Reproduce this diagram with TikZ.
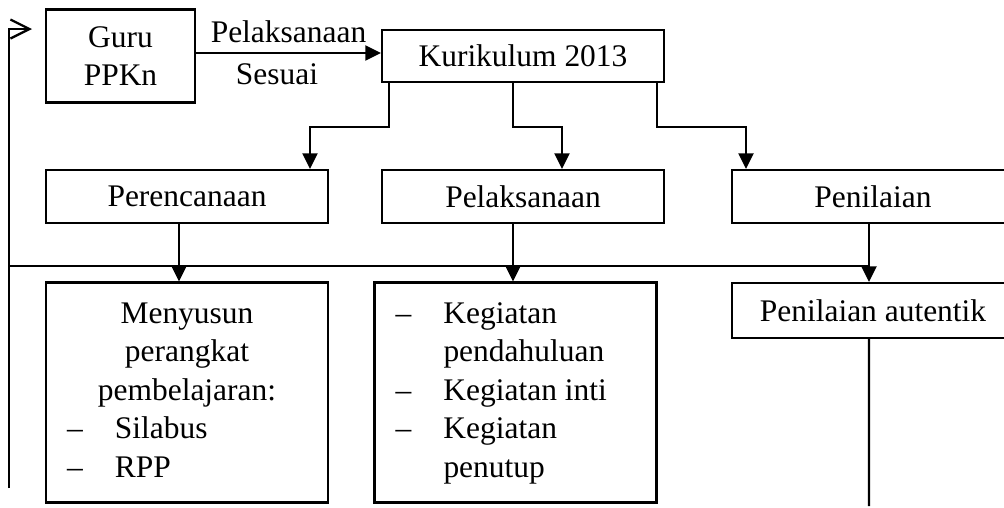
\documentclass[tikz,border=0pt]{standalone}
\usepackage{fontspec}
\setmainfont{Liberation Serif}
\usetikzlibrary{arrows.meta}

\begin{document}
\begin{tikzpicture}[->, >={Triangle[length=0.31cm, width=0.3cm]}, line width=1.3pt, auto,
  font=\fontsize{17.9}{21.9}\selectfont,
  kotak/.style={draw, rectangle, minimum width=5.64cm, minimum height=1.06cm},
  daftar/.style={draw, rectangle, minimum width=5.64cm, minimum height=4.4cm, inner sep=0pt}]
\useasboundingbox (0,0) rectangle (20.08,-10.16);
\node  (2)[kotak, minimum height=1.04cm] at (10.46,-1.12) {Kurikulum 2013};
\node  (1)[draw, rectangle, minimum width=2.98cm, minimum height=1.86cm, align=center, node distance=8.05cm] [left of = 2] {Guru\\PPKn};
\node  (4)[kotak, node distance=2.81cm] [below of = 2] {Pelaksanaan};
\node  (3)[kotak, node distance=6.72cm] [left  of = 4] {Perencanaan};
\node  (5)[kotak, node distance=7cm]    [right of = 4] {Penilaian};
\node  (6)[daftar, node distance=3.92cm] [below of = 3] {\begin{tabular}{@{}p{0.96cm}@{}p{3.84cm}@{}}
    \multicolumn{2}{@{}c@{}}{Menyusun}\\
    \multicolumn{2}{@{}c@{}}{perangkat}\\
    \multicolumn{2}{@{}c@{}}{pembelajaran:}\\
    -- & Silabus\\
    -- & RPP
  \end{tabular}};
\node  (7)[daftar] at (10.31,-7.85) {\begin{tabular}{@{}p{0.96cm}@{}p{3.84cm}@{}}
    -- & Kegiatan\\
       & pendahuluan\\
    -- & Kegiatan inti\\
    -- & Kegiatan\\
       & penutup
  \end{tabular}};
\node  (8)[kotak, minimum height=1.1cm, node distance=2.28cm] [below of = 5] {Penilaian autentik};
\coordinate (9)  at (0.18,-9.76);
\coordinate (10) at (0.64,-0.58);
\coordinate (11) at (0.18,-5.32);
\coordinate (12) at (17.38,-10.12);
\draw ([yshift=0.06cm]1.east) -- node[above, yshift=0.06cm]{Pelaksanaan} node[below, xshift=-0.23cm, yshift=-0.08cm]{Sesuai} ([yshift=0.06cm]2.west);
\draw ([xshift=0.16cm]2.south west) -- ++(0,-0.88) -| ([xshift=2.46cm]3.north);
\draw ([xshift=-0.2cm]2.south) -- ++(0,-0.88) -| ([xshift=0.78cm]4.north);
\draw ([xshift=-0.16cm]2.south east) -- ++(0,-0.88) -| ([xshift=-2.54cm]5.north);
\draw ([xshift=-0.16cm]3.south) -- ([xshift=-0.16cm]6.north);
\draw ([xshift=-0.2cm]4.south) -- ([xshift=-0.2cm]4.south |- 7.north);
\draw ([xshift=-0.08cm]5.south) -- ([xshift=-0.08cm]8.north);
\draw[-] ([xshift=-0.08cm]8.south) -- (12);
\draw[-] (11) -- (11 -| 12);
\draw[-{Straight Barb[length=0.38cm, width=0.38cm]}] (9) |- (10);
\end{tikzpicture}
\end{document}
